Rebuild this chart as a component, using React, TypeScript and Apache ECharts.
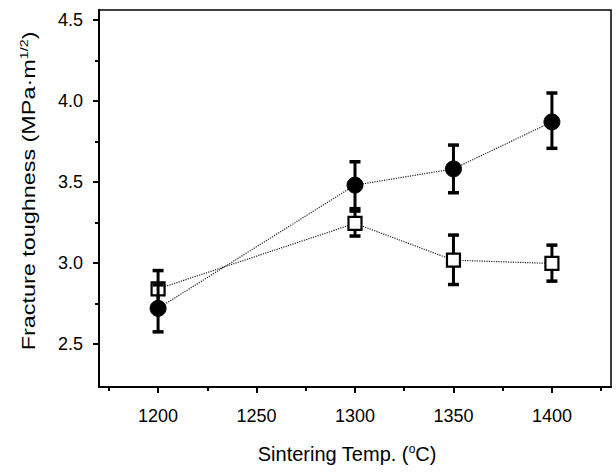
import React, { useEffect, useRef } from "react";
import * as echarts from "echarts";

const temps = [1200, 1300, 1350, 1400];
const circleMean = [2.72, 3.48, 3.58, 3.87];
const circleLow = [2.575, 3.335, 3.433, 3.707];
const circleHigh = [2.865, 3.624, 3.727, 4.048];
const squareMean = [2.84, 3.244, 3.017, 2.997];
const squareLow = [2.73, 3.166, 2.867, 2.888];
const squareHigh = [2.953, 3.32, 3.172, 3.11];
const xMajor = [1200, 1250, 1300, 1350, 1400];
const xMinor = [1175, 1225, 1275, 1325, 1375, 1425];
const yMajor = [2.5, 3.0, 3.5, 4.0, 4.5];
const yMinor = [2.75, 3.25, 3.75, 4.25];

const FONT = "Liberation Sans, Arial, sans-serif";

function errRender(params: any, api: any) {
  const x = api.value(0);
  const lo = api.coord([x, api.value(1)]);
  const hi = api.coord([x, api.value(2)]);
  const cap = 5.5;
  const st = { stroke: "#000", lineWidth: 3.5 };
  return {
    type: "group",
    children: [
      { type: "line", shape: { x1: lo[0], y1: lo[1], x2: hi[0], y2: hi[1] }, style: { stroke: "#000", lineWidth: 3 } },
      { type: "line", shape: { x1: lo[0] - cap, y1: lo[1], x2: lo[0] + cap, y2: lo[1] }, style: st },
      { type: "line", shape: { x1: hi[0] - cap, y1: hi[1], x2: hi[0] + cap, y2: hi[1] }, style: st },
    ],
  };
}

export default function App() {
  const ref = useRef<HTMLDivElement>(null);
  useEffect(() => {
    document.body.style.margin = "0";
    const chart = echarts.init(ref.current!, null, { renderer: "svg" });
    const xMin = 1170, xMax = 1430, yMin = 2.235, yMax = 4.56;
    const baseX = {
      type: "value",
      min: xMin,
      max: xMax,
      position: "bottom",
      splitLine: { show: false },
    };
    const baseY = {
      type: "value",
      min: yMin,
      max: yMax,
      position: "left",
      splitLine: { show: false },
    };
    chart.setOption({
      animation: false,
      backgroundColor: "#fff",
      grid: {
        left: 99,
        right: 5,
        top: 10,
        bottom: 85,
        show: true,
        borderColor: "#000",
        borderWidth: 1.5,
        backgroundColor: "transparent",
      },
      xAxis: [
        {
          ...baseX,
          axisLine: { show: true, lineStyle: { color: "#000", width: 2 } },
          axisTick: { show: true, inside: false, length: 6, lineStyle: { color: "#000", width: 2 }, customValues: xMajor },
          axisLabel: {
            show: true, color: "#000", fontSize: 18, fontFamily: FONT, margin: 20, customValues: xMajor,
            formatter: (v: number) => String(v),
          },
        },
        {
          ...baseX,
          axisLine: { show: false },
          axisTick: { show: true, inside: false, length: 4, lineStyle: { color: "#000", width: 2 }, customValues: xMinor },
          axisLabel: { show: false },
        },
      ],
      yAxis: [
        {
          ...baseY,
          axisLine: { show: true, lineStyle: { color: "#000", width: 2 } },
          axisTick: { show: true, inside: false, length: 6, lineStyle: { color: "#000", width: 2 }, customValues: yMajor },
          axisLabel: {
            show: true, color: "#000", fontSize: 18, fontFamily: FONT, margin: 16, customValues: yMajor,
            formatter: (v: number) => v.toFixed(1),
          },
        },
        {
          ...baseY,
          axisLine: { show: false },
          axisTick: { show: true, inside: false, length: 4, lineStyle: { color: "#000", width: 2 }, customValues: yMinor },
          axisLabel: { show: false },
        },
      ],
      graphic: [
        {
          type: "text",
          x: 347,
          y: 454,
          style: {
            text: "{a|Sintering Temp. (}{s|o}{a|C)}",
            align: "center",
            verticalAlign: "middle",
            rich: {
              a: { fontSize: 20, fontFamily: FONT, fill: "#000", lineHeight: 22 },
              s: { fontSize: 12, fontFamily: FONT, fill: "#000", verticalAlign: "top", lineHeight: 22 },
            },
          },
        },
        {
          type: "text",
          x: 29,
          y: 191,
          rotation: Math.PI / 2,
          scaleX: 1.3,
          style: {
            text: "{a|Fracture toughness (MPa·m}{s|1/2}{a|)}",
            align: "center",
            verticalAlign: "middle",
            rich: {
              a: { fontSize: 18, fontFamily: FONT, fill: "#000", lineHeight: 20 },
              s: { fontSize: 11, fontFamily: FONT, fill: "#000", verticalAlign: "top", lineHeight: 20 },
            },
          },
        },
      ],
      series: [
        {
          type: "custom",
          name: "square err",
          xAxisIndex: 0,
          yAxisIndex: 0,
          renderItem: errRender,
          encode: { x: 0, y: [1, 2] },
          data: temps.map((t, i) => [t, squareLow[i], squareHigh[i]]),
          z: 1,
        },
        {
          type: "line",
          name: "square",
          xAxisIndex: 0,
          yAxisIndex: 0,
          data: temps.map((t, i) => [t, squareMean[i]]),
          symbol: "rect",
          symbolSize: 13,
          showAllSymbol: true,
          lineStyle: { color: "#222", width: 1.2, type: "dotted" },
          itemStyle: { color: "#fff", borderColor: "#000", borderWidth: 2.2 },
          z: 2,
        },
        {
          type: "custom",
          name: "circle err",
          xAxisIndex: 0,
          yAxisIndex: 0,
          renderItem: errRender,
          encode: { x: 0, y: [1, 2] },
          data: temps.map((t, i) => [t, circleLow[i], circleHigh[i]]),
          z: 3,
        },
        {
          type: "line",
          name: "circle",
          xAxisIndex: 0,
          yAxisIndex: 0,
          data: temps.map((t, i) => [t, circleMean[i]]),
          symbol: "circle",
          symbolSize: 16,
          showAllSymbol: true,
          lineStyle: { color: "#222", width: 1.2, type: "dotted" },
          itemStyle: { color: "#000", borderColor: "#000", borderWidth: 1 },
          z: 4,
        },
      ],
    });
    return () => chart.dispose();
  }, []);
  return <div ref={ref} style={{ width: 616, height: 472 }} />;
}
